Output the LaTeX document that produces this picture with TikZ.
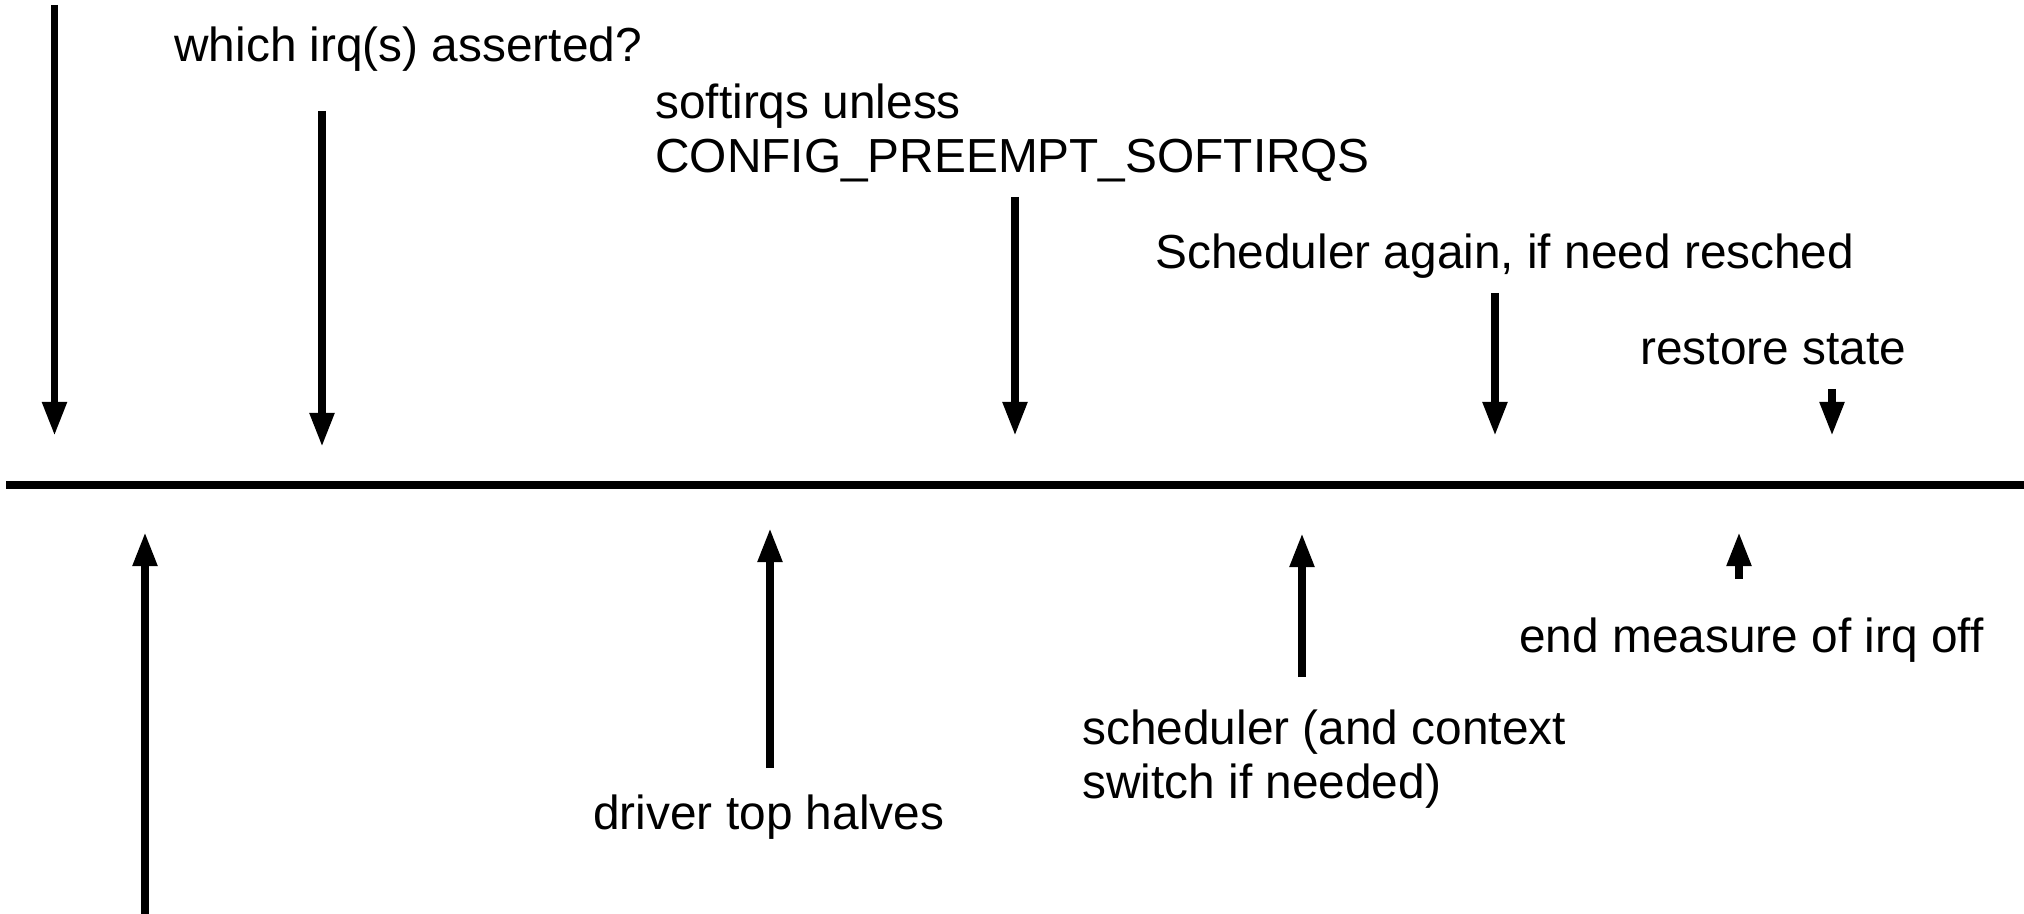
\documentclass[tikz,border=0pt]{standalone}
\usepackage{fontspec}
\setmainfont{Liberation Sans}
\usetikzlibrary{arrows.meta}
\begin{document}
\begin{tikzpicture}[x=0.5pt,y=-0.5pt,
  lbl/.style={anchor=base west,inner sep=0pt,align=left,
    font=\fontsize{23.9pt}{27pt}\selectfont},
  pointer/.style={line width=3.9pt,-{Triangle[width=11.5pt,length=17pt]}},
  timeline/.style={line width=3.7pt}]
\useasboundingbox (0,0) rectangle (2024,914);
% timeline
\coordinate (L0) at (6,485);
\coordinate (L1) at (2024,485);
\draw[timeline] (L0) -- (L1);
% labels (multi-line labels are anchored at the baseline of their last line)
\node[lbl] (t1) at (174,62) {which irq(s) asserted?};
\node[lbl] (t2) at (655,173) {softirqs unless\\CONFIG\_PREEMPT\_SOFTIRQS};
\node[lbl] (t3) at (1155,269) {Scheduler again, if need resched};
\node[lbl] (t4) at (1640,365) {restore state};
\node[lbl] (t5) at (593,829) {driver top halves};
\node[lbl] (t6) at (1082,798) {scheduler (and context\\switch if needed)};
\node[lbl] (t7) at (1519,652) {end measure of irq off};
% arrow endpoints
\coordinate (a1s) at (54.5,5);   \coordinate (a1e) at (54.5,436);
\coordinate (a2s) at (322,111);  \coordinate (a2e) at (322,447);
\coordinate (a3s) at (1015,197); \coordinate (a3e) at (1015,436);
\coordinate (a4s) at (1495,293); \coordinate (a4e) at (1495,436);
\coordinate (a5s) at (1832,389); \coordinate (a5e) at (1832,436);
\coordinate (a6s) at (145,914);  \coordinate (a6e) at (145,532);
\coordinate (a7s) at (770,768);  \coordinate (a7e) at (770,528);
\coordinate (a8s) at (1302,677); \coordinate (a8e) at (1302,533);
\coordinate (a9s) at (1739,579); \coordinate (a9e) at (1739,532);
\foreach \i in {1,...,9} \draw[pointer] (a\i s) -- (a\i e);
\end{tikzpicture}
\end{document}
